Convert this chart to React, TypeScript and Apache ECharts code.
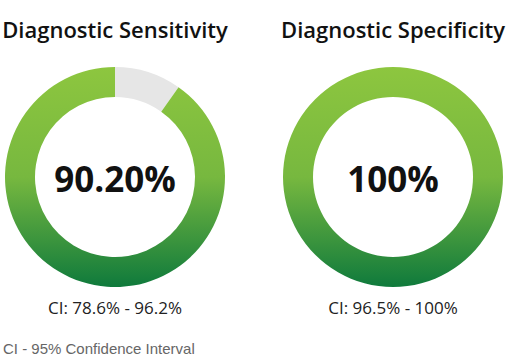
import React, { useEffect, useRef } from "react";
import * as echarts from "echarts";

const titles = ["Diagnostic Sensitivity", "Diagnostic Specificity"];
const values = [90.2, 100];
const centerLabels = ["90.20%", "100%"];
const ciLabels = ["CI: 78.6% - 96.2%", "CI: 96.5% - 100%"];
const footnote = "CI - 95% Confidence Interval";

const centersX = [115, 393];
const centerY = 177;

export default function App() {
  const ref = useRef<HTMLDivElement>(null);
  useEffect(() => {
    document.body.style.margin = "0";
    const chart = echarts.init(ref.current!, null, { renderer: "svg" });
    const grad = new echarts.graphic.LinearGradient(0, 0, 0, 1, [
      { offset: 0, color: "#8dc63f" },
      { offset: 0.5, color: "#77b83f" },
      { offset: 1, color: "#0f7a3c" },
    ]);
    const series = values.map((v, i) => ({
      type: "pie",
      center: [centersX[i], centerY],
      radius: [80, 110],
      startAngle: 90,
      clockwise: true,
      silent: true,
      label: { show: false },
      labelLine: { show: false },
      data: [
        { value: +(100 - v).toFixed(2), itemStyle: { color: "#e6e6e6" } },
        { value: v, itemStyle: { color: grad } },
      ],
    }));
    const font = "'Open Sans', sans-serif";
    const graphic: any[] = [];
    titles.forEach((t, i) => {
      graphic.push({
        type: "text",
        x: centersX[i],
        y: 29,
        style: { text: t, fill: "#111", font: `600 22px ${font}`, textAlign: "center", textVerticalAlign: "middle" },
      });
      graphic.push({
        type: "text",
        x: centersX[i],
        y: 178,
        style: { text: centerLabels[i], fill: "#111", font: `bold 35px ${font}`, textAlign: "center", textVerticalAlign: "middle" },
      });
      graphic.push({
        type: "text",
        x: centersX[i],
        y: 307,
        style: { text: ciLabels[i], fill: "#222", font: `17px ${font}`, textAlign: "center", textVerticalAlign: "middle" },
      });
    });
    graphic.push({
      type: "text",
      x: 3,
      y: 348,
      style: { text: footnote, fill: "#666", font: `15px 'Liberation Sans', Arial, sans-serif`, textAlign: "left", textVerticalAlign: "middle" },
    });
    chart.setOption({ animation: false, series, graphic });
    return () => chart.dispose();
  }, []);
  return <div ref={ref} style={{ width: 512, height: 360, background: "#fff" }} />;
}
